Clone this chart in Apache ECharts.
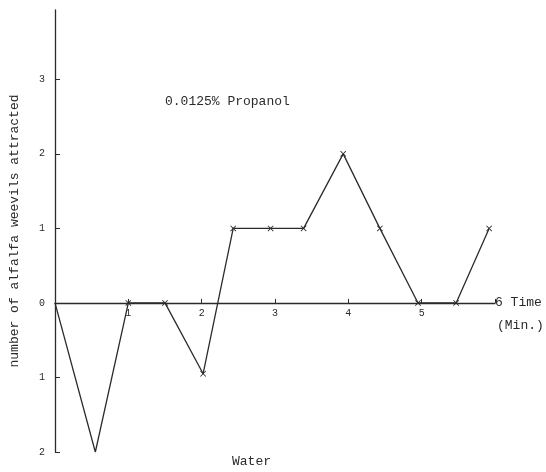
<!DOCTYPE html>
<html>
<head>
<meta charset="utf-8">
<script src="https://cdn.jsdelivr.net/npm/echarts@6/dist/echarts.min.js"></script>
<style>
html,body{margin:0;padding:0;background:#fff;}
#c{width:546px;height:472px;}
</style>
</head>
<body>
<div id="c"></div>
<script>
// Data
const timeMin = [0, 0.55, 1, 1.5, 2.02, 2.43, 2.94, 3.39, 3.93, 4.43, 4.95, 5.47, 5.92];
const weevils = [0, -2, 0, 0, -0.95, 1, 1, 1, 2, 1, 0, 0, 1];
const xTickValues = [1, 2, 3, 4, 5];
const xEndLabel = '6';
const yTickValues = [-2, -1, 0, 1, 2, 3];
const titleText = '0.0125% Propanol';
const yName = 'number of alfalfa weevils attracted';
const xName = 'Time';
const xUnit = '(Min.)';
const negLabel = 'Water';

const FONT = "'Liberation Mono', 'DejaVu Sans Mono', monospace";
const INK = '#2b2b2b';
const crossPath = 'path://M0,1L1,0L5,4L9,0L10,1L6,5L10,9L9,10L5,6L1,10L0,9L4,5Z';

const GRID = {left: 55, right: 51, top: 10, bottom: 20};
const Y_MIN = -2, Y_MAX = 3.93;
const plotH = 472 - GRID.top - GRID.bottom;
// distance from the bottom of the plot up to the zero line
const zeroLift = plotH * (0 - Y_MIN) / (Y_MAX - Y_MIN);

const chart = echarts.init(document.getElementById('c'), null, {renderer: 'canvas'});
chart.setOption({
  backgroundColor: '#fff',
  animation: false,
  title: {
    text: titleText, left: 160, top: 90,
    textStyle: {fontFamily: FONT, fontSize: 13, fontWeight: 'normal', color: INK}
  },
  grid: Object.assign({containLabel: false}, GRID),
  xAxis: {
    type: 'value', min: 0, max: 6, interval: 1,
    offset: -zeroLift,
    name: xEndLabel + ' ' + xName, nameLocation: 'end', nameGap: 0,
    nameTextStyle: {fontFamily: FONT, fontSize: 13, color: INK, align: 'left', verticalAlign: 'middle'},
    axisLine: {onZero: false, lineStyle: {color: INK, width: 1.3}},
    axisTick: {show: true, inside: true, length: 4, customValues: xTickValues.concat([6]), lineStyle: {color: INK}},
    axisLabel: {customValues: xTickValues, margin: 5, fontFamily: FONT, fontSize: 10, color: INK},
    splitLine: {show: false}
  },
  yAxis: {
    type: 'value', min: Y_MIN, max: Y_MAX, interval: 1,
    name: yName, nameLocation: 'middle', nameGap: 34, nameRotate: 90,
    nameTextStyle: {fontFamily: FONT, fontSize: 13, color: INK},
    axisLine: {lineStyle: {color: INK, width: 1.3}},
    axisTick: {show: true, inside: true, length: 5, customValues: yTickValues, lineStyle: {color: INK}},
    axisLabel: {customValues: yTickValues, margin: 10, fontFamily: FONT, fontSize: 10, color: INK,
      formatter: v => String(Math.abs(v))},
    splitLine: {show: false}
  },
  graphic: [
    {type: 'text', left: 497, top: 319, style: {text: xUnit, font: '13px ' + FONT, fill: INK}},
    {type: 'text', left: 232, top: 455, style: {text: negLabel, font: '13px ' + FONT, fill: INK}}
  ],
  series: [{
    type: 'line',
    data: timeMin.map((t, i) => [t, weevils[i]]),
    symbol: (v, p) => p.dataIndex < 2 ? 'none' : crossPath,
    symbolSize: 6,
    showAllSymbol: true,
    lineStyle: {color: INK, width: 1.3},
    itemStyle: {color: INK},
    z: 3
  }]
});
</script>
</body>
</html>
